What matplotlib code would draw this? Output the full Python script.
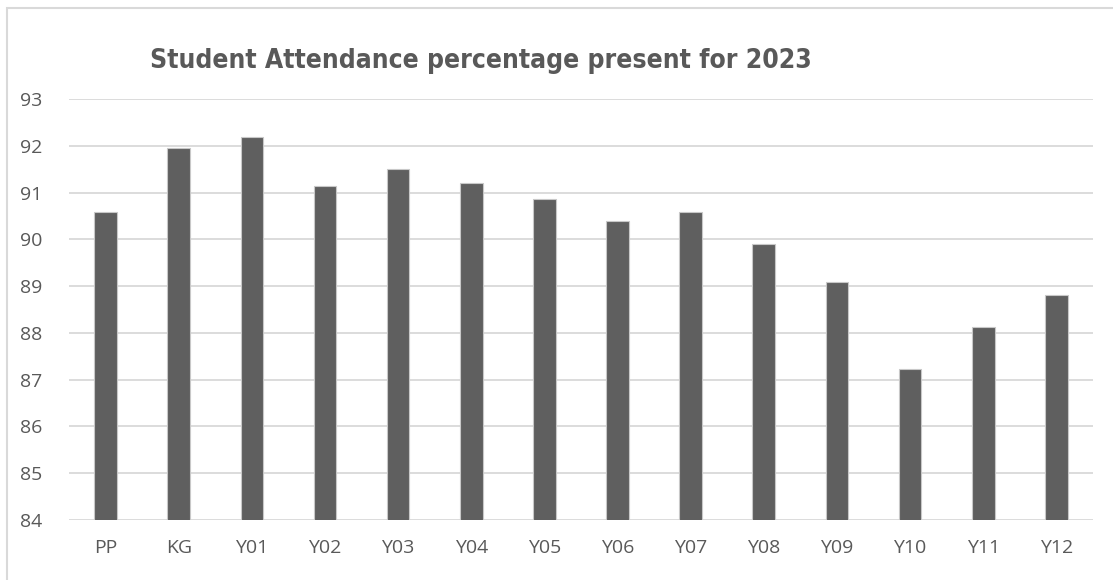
import matplotlib.pyplot as plt
from matplotlib.patches import Rectangle

# dados
categorias = ["PP", "KG", "Y01", "Y02", "Y03", "Y04", "Y05", "Y06", "Y07", "Y08", "Y09", "Y10", "Y11", "Y12"]
presenca = [90.58, 91.95, 92.18, 91.15, 91.50, 91.20, 90.86, 90.40, 90.58, 89.90, 89.09, 87.22, 88.13, 88.80]
ticks_y = [84, 85, 86, 87, 88, 89, 90, 91, 92, 93]

plt.rcParams['font.family'] = ['Open Sans', 'DejaVu Sans']

fig = plt.figure(figsize=(11.13, 5.8), dpi=100)
ax = fig.add_axes([0.062, 0.1034, 0.92, 0.7259])

# borda do grafico (cortada a direita e embaixo)
fig.patches.append(Rectangle((7 / 1113, -0.1), 2, (580 - 8) / 580 + 0.1,
                             transform=fig.transFigure, fill=False,
                             edgecolor="#d9d9d9", linewidth=1.5))

x = range(len(categorias))
ax.bar(x, presenca, width=0.31, color="#5f5f5f", edgecolor="#c8c8c8", linewidth=0.8, zorder=3)

ax.set_ylim(84, 93)
ax.set_xlim(-0.5, len(categorias) - 0.5)
ax.set_yticks(ticks_y)
ax.set_xticks(list(x))
ax.set_xticklabels(categorias)
ax.grid(axis="y", color="#d9d9d9", linewidth=1.3, zorder=0)
ax.set_axisbelow(True)
for s in ax.spines.values():
    s.set_visible(False)
ax.tick_params(axis="both", length=0, labelsize=14, colors="#595959")
ax.tick_params(axis="x", pad=14)
ax.tick_params(axis="y", pad=19)

fig.text(0.432, 1 - 68 / 580, "Student Attendance percentage present for 2023",
         ha="center", va="baseline", fontsize=19, fontweight="bold", color="#595959",
         family="DejaVu Sans", fontstretch="condensed")

fig.savefig("out.png", dpi=100)
